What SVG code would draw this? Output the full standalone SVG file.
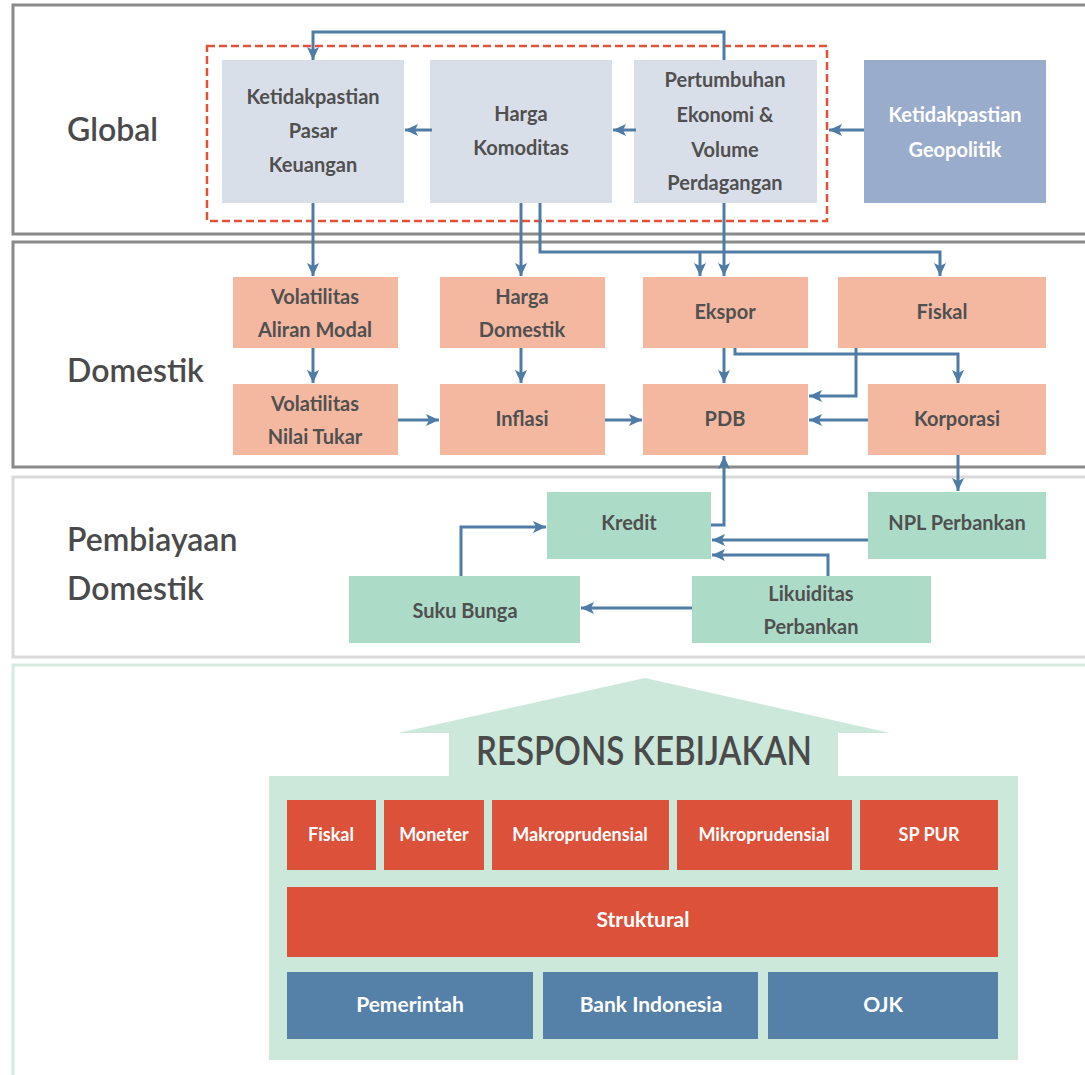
<svg xmlns="http://www.w3.org/2000/svg" width="1085" height="1075" viewBox="0 0 1085 1075">
<style>
text{font-family:Lato,"Liberation Sans",sans-serif;text-anchor:middle}
.sec{fill:#fff;stroke-width:3}
.lbl{font-size:32px;font-weight:600;fill:#4a4a4a;text-anchor:start}
.g{fill:#d9dfe9}
.geo{fill:#9aaccc}
.d{fill:#f4b8a0}
.p{fill:#acdcc8}
.r{fill:#dc5139}
.b{fill:#5580a8}
.t{font-size:20px;font-weight:700;fill:#505050}
.w{font-size:20px;font-weight:700;fill:#fff}
.s{font-size:18px;font-weight:700;fill:#fff}
.l{font-size:21px;font-weight:700;fill:#fff}
.c path{fill:none;stroke:#4f7ca6;stroke-width:3}
</style>
<defs>
<marker id="a" markerUnits="userSpaceOnUse" markerWidth="14" markerHeight="14" refX="13" refY="7" orient="auto">
<path d="M0,1 L13,7 L0,13 L3,7 z" fill="#4f7ca6"/>
</marker>
</defs>
<rect width="1085" height="1075" fill="#fff"/>
<g id="sections">
<rect class="sec" x="13" y="5" width="1090" height="229" stroke="#8a8a8a"/>
<rect class="sec" x="13" y="242" width="1090" height="225" stroke="#8a8a8a"/>
<rect class="sec" x="13" y="477" width="1090" height="180" stroke="#dadada"/>
<rect class="sec" x="13" y="665" width="1090" height="420" stroke="#d3ebe0"/>
<text class="lbl" x="67" y="141">Global</text>
<text class="lbl" x="67" y="382">Domestik</text>
<text class="lbl" x="67" y="551">Pembiayaan</text>
<text class="lbl" x="67" y="600">Domestik</text>
</g>
<rect x="207" y="46" width="620" height="175" fill="none" stroke="#e0533a" stroke-width="2.5" stroke-dasharray="8 4"/>
<g id="n-ketidakpastian"><rect class="g" x="222" y="60" width="182" height="143"/>
<text class="t" x="313" y="104">Ketidakpastian</text><text class="t" x="313" y="138">Pasar</text><text class="t" x="313" y="172">Keuangan</text></g>
<g id="n-harga"><rect class="g" x="430" y="60" width="182" height="143"/>
<text class="t" x="521" y="121">Harga</text><text class="t" x="521" y="155">Komoditas</text></g>
<g id="n-pertumbuhan"><rect class="g" x="634" y="60" width="183" height="143"/>
<text class="t" x="725" y="87">Pertumbuhan</text><text class="t" x="725" y="122">Ekonomi &amp;</text><text class="t" x="725" y="157">Volume</text><text class="t" x="725" y="190">Perdagangan</text></g>
<g id="n-geopolitik"><rect class="geo" x="864" y="60" width="182" height="143"/>
<text class="w" x="955" y="122">Ketidakpastian</text><text class="w" x="955" y="157">Geopolitik</text></g>
<g id="n-aliran"><rect class="d" x="233" y="277" width="165" height="71"/>
<text class="t" x="315" y="304">Volatilitas</text><text class="t" x="315" y="337">Aliran Modal</text></g>
<g id="n-hargadom"><rect class="d" x="440" y="277" width="165" height="71"/>
<text class="t" x="522" y="304">Harga</text><text class="t" x="522" y="337">Domestik</text></g>
<g id="n-ekspor"><rect class="d" x="643" y="277" width="165" height="71"/>
<text class="t" x="725" y="319">Ekspor</text></g>
<g id="n-fiskal"><rect class="d" x="838" y="277" width="208" height="71"/>
<text class="t" x="942" y="319">Fiskal</text></g>
<g id="n-nilaitukar"><rect class="d" x="233" y="384" width="165" height="71"/>
<text class="t" x="315" y="411">Volatilitas</text><text class="t" x="315" y="444">Nilai Tukar</text></g>
<g id="n-inflasi"><rect class="d" x="440" y="384" width="165" height="71"/>
<text class="t" x="522" y="426">Inflasi</text></g>
<g id="n-pdb"><rect class="d" x="643" y="384" width="165" height="71"/>
<text class="t" x="725" y="426">PDB</text></g>
<g id="n-korporasi"><rect class="d" x="868" y="384" width="178" height="71"/>
<text class="t" x="957" y="426">Korporasi</text></g>
<g id="n-kredit"><rect class="p" x="547" y="492" width="164" height="67"/>
<text class="t" x="629" y="530">Kredit</text></g>
<g id="n-npl"><rect class="p" x="868" y="492" width="178" height="67"/>
<text class="t" x="957" y="530">NPL Perbankan</text></g>
<g id="n-suku"><rect class="p" x="349" y="576" width="231" height="67"/>
<text class="t" x="465" y="618">Suku Bunga</text></g>
<g id="n-likuiditas"><rect class="p" x="692" y="576" width="239" height="67"/>
<text class="t" x="811" y="601">Likuiditas</text><text class="t" x="811" y="634">Perbankan</text></g>
<g class="c" id="connectors">
<path d="M724,60 V32 H313 V60" marker-end="url(#a)"/>
<path d="M432,130 H405" marker-end="url(#a)"/>
<path d="M636,130 H613" marker-end="url(#a)"/>
<path d="M864,130 H829" marker-end="url(#a)"/>
<path d="M313,203 V276" marker-end="url(#a)"/>
<path d="M521,203 V276" marker-end="url(#a)"/>
<path d="M540,203 V252 H940 V276" marker-end="url(#a)"/>
<path d="M700,252 V276" marker-end="url(#a)"/>
<path d="M724,203 V276" marker-end="url(#a)"/>
<path d="M313,348 V383" marker-end="url(#a)"/>
<path d="M521,348 V383" marker-end="url(#a)"/>
<path d="M724,348 V383" marker-end="url(#a)"/>
<path d="M735,348 V354 H958 V383" marker-end="url(#a)"/>
<path d="M856,348 V396 H809" marker-end="url(#a)"/>
<path d="M868,420 H809" marker-end="url(#a)"/>
<path d="M398,420 H439" marker-end="url(#a)"/>
<path d="M605,420 H642" marker-end="url(#a)"/>
<path d="M958,455 V491" marker-end="url(#a)"/>
<path d="M711,525 H724 V456" marker-end="url(#a)"/>
<path d="M868,540 H712" marker-end="url(#a)"/>
<path d="M828,576 V555 H712" marker-end="url(#a)"/>
<path d="M692,608 H581" marker-end="url(#a)"/>
<path d="M461,576 V527 H546" marker-end="url(#a)"/>
</g>
<g id="respons">
<path d="M645,678 L890,733 L838,733 L838,776 L1018,776 L1018,1060 L269,1060 L269,776 L449,776 L449,733 L398,733 Z" fill="#cce8da"/>
<text x="644" y="765" font-size="40" font-weight="600" fill="#4a4a4a" textLength="336" lengthAdjust="spacingAndGlyphs">RESPONS KEBIJAKAN</text>
</g>
<g id="r-fiskal"><rect class="r" x="287" y="800" width="89" height="70"/><text class="s" x="331" y="841">Fiskal</text></g>
<g id="r-moneter"><rect class="r" x="384" y="800" width="100" height="70"/><text class="s" x="434" y="841">Moneter</text></g>
<g id="r-makro"><rect class="r" x="492" y="800" width="177" height="70"/><text class="s" x="580" y="841">Makroprudensial</text></g>
<g id="r-mikro"><rect class="r" x="677" y="800" width="175" height="70"/><text class="s" x="764" y="841">Mikroprudensial</text></g>
<g id="r-sppur"><rect class="r" x="860" y="800" width="138" height="70"/><text class="s" x="929" y="841">SP PUR</text></g>
<g id="r-struktural"><rect class="r" x="287" y="887" width="711" height="70"/><text class="l" x="643" y="927">Struktural</text></g>
<g id="b-pemerintah"><rect class="b" x="287" y="972" width="246" height="67"/><text class="l" x="410" y="1012">Pemerintah</text></g>
<g id="b-bi"><rect class="b" x="543" y="972" width="215" height="67"/><text class="l" x="651" y="1012">Bank Indonesia</text></g>
<g id="b-ojk"><rect class="b" x="768" y="972" width="230" height="67"/><text class="l" x="883" y="1012">OJK</text></g>
</svg>
